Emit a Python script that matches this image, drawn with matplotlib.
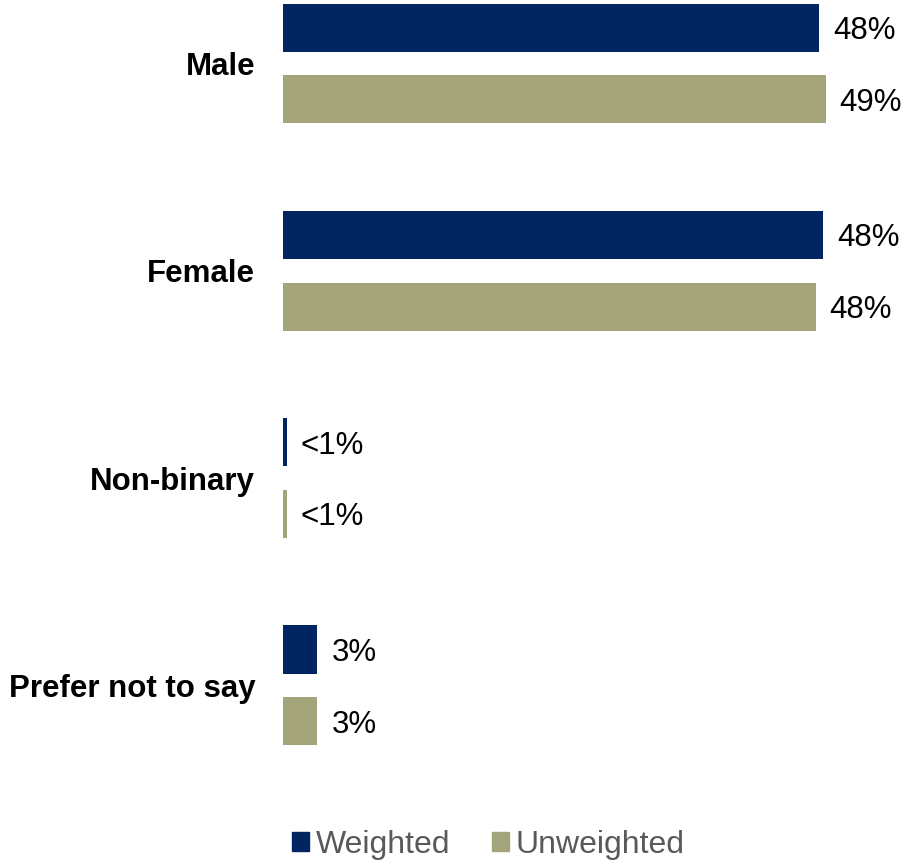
import numpy as np
import matplotlib.pyplot as plt
from matplotlib.patches import Patch

plt.rcParams['font.family'] = ['Liberation Sans', 'DejaVu Sans']

# data
categories = ["Male", "Female", "Non-binary", "Prefer not to say"]
weighted = [48.2, 48.6, 0.35, 3.1]
unweighted = [48.8, 47.9, 0.35, 3.1]
weighted_lbl = ["48%", "48%", "<1%", "3%"]
unweighted_lbl = ["49%", "48%", "<1%", "3%"]

navy = '#002561'
olive = '#A3A479'

fig = plt.figure(figsize=(9.05, 8.61), dpi=100)
W, H = 905, 861
ax = fig.add_axes([283 / W, (H - 790) / H, (900 - 283) / W, 790 / H])

y = np.arange(len(categories))
off = 0.173
h = 0.232
ax.barh(y - off, weighted, height=h, color=navy)
ax.barh(y + off, unweighted, height=h, color=olive)

ax.set_xlim(0, (900 - 283) / 11.12)
ax.set_ylim(3.505, -0.306)

for i in range(len(categories)):
    ax.annotate(weighted_lbl[i], (weighted[i], y[i] - off), xytext=(10, 0), textcoords='offset points',
                va='center_baseline', ha='left', fontsize=22.5)
    ax.annotate(unweighted_lbl[i], (unweighted[i], y[i] + off), xytext=(10, 0), textcoords='offset points',
                va='center_baseline', ha='left', fontsize=22.5)

ax.set_yticks(y)
ax.set_yticklabels(categories, fontsize=22.5, fontweight='bold')
ax.tick_params(axis='y', length=0, pad=20)
ax.set_xticks([])
for s in ax.spines.values():
    s.set_visible(False)

handles = [Patch(color=navy, label='Weighted'), Patch(color=olive, label='Unweighted')]
fig.legend(handles=handles, loc='center', bbox_to_anchor=(488 / W, 1 - 845 / H), ncol=2,
           frameon=False, fontsize=23, labelcolor='#595959', handlelength=0.55, handleheight=0.55,
           handletextpad=0.2, columnspacing=1.3)

plt.savefig('out.png', dpi=100)
